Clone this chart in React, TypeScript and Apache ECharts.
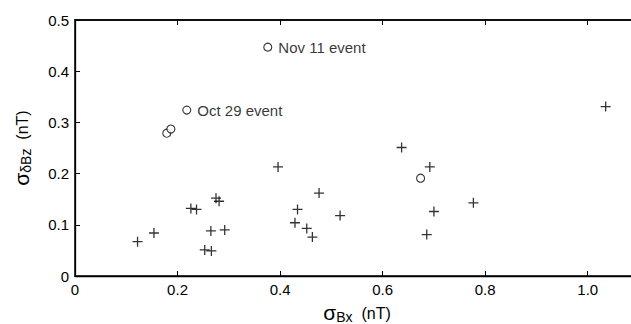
import React, { useEffect, useRef } from "react";
import * as echarts from "echarts";

const crossX = [0.122, 0.154, 0.226, 0.237, 0.275, 0.281, 0.265, 0.292, 0.253, 0.266, 0.396, 0.429, 0.434, 0.452, 0.463, 0.476, 0.517, 0.637, 0.692, 0.700, 0.686, 0.777, 1.035];
const crossY = [0.067, 0.084, 0.132, 0.130, 0.152, 0.146, 0.088, 0.090, 0.051, 0.049, 0.213, 0.104, 0.130, 0.093, 0.076, 0.162, 0.118, 0.251, 0.213, 0.126, 0.081, 0.143, 0.331];
const circleX = [0.376, 0.218, 0.179, 0.187, 0.674];
const circleY = [0.447, 0.324, 0.279, 0.287, 0.191];
const circleLabels = ["Nov 11 event", "Oct 29 event", "", "", ""];
const xTicks = [0, 0.2, 0.4, 0.6, 0.8, 1.0];
const yTicks = [0, 0.1, 0.2, 0.3, 0.4, 0.5];

const FONT = "'Liberation Sans', Arial, Helvetica, sans-serif";

export default function App() {
  const ref = useRef<HTMLDivElement>(null);
  useEffect(() => {
    if (!ref.current) return;
    const chart = echarts.init(ref.current, undefined, { renderer: "svg" });
    const fmtX = (v: number) => {
      if (!xTicks.some((t) => Math.abs(t - v) < 1e-6)) return "";
      return v === 0 ? "0" : v.toFixed(1);
    };
    const fmtY = (v: number) => {
      if (!yTicks.some((t) => Math.abs(t - v) < 1e-6)) return "";
      return v === 0 ? "0" : v.toFixed(1);
    };
    const axisLine = (w: number) => ({ show: true, onZero: false, lineStyle: { color: "#000", width: w } });
    const tick = () => ({ show: true, inside: true, length: 5, lineStyle: { color: "#000", width: 1 } });
    const rich = () => ({
      s: { fontSize: 21, fontFamily: FONT, color: "#000" },
      sub: { fontSize: 14, fontFamily: FONT, color: "#000", padding: [9, 0, 0, 0] },
      n: { fontSize: 16, fontFamily: FONT, color: "#000", padding: [2, 0, 0, 0] },
    });
    chart.setOption({
      animation: false,
      backgroundColor: "#fff",
      textStyle: { fontFamily: FONT },
      grid: {
        left: 75,
        top: 20,
        width: 564,
        height: 256,
        outerBoundsMode: "none",
        show: true,
        borderColor: "#000",
        borderWidth: 1.5,
        backgroundColor: "rgba(0,0,0,0)",
      },
      xAxis: [
        {
          type: "value",
          min: 0,
          max: 1.1,
          interval: 0.2,
          position: "bottom",
          axisLine: axisLine(1.3),
          axisTick: tick(),
          splitLine: { show: false },
          showMaxLabel: false,
          axisLabel: { formatter: fmtX, fontSize: 15, color: "#000", margin: 6, fontFamily: FONT },
          name: "{s|σ}{sub|Bx}{n|  (nT)}",
          nameLocation: "middle",
          nameGap: 8,
          nameTextStyle: { rich: rich() },
        },
        {
          type: "value",
          min: 0,
          max: 1.1,
          interval: 0.2,
          position: "top",
          z: 20,
          axisLine: axisLine(1.5),
          axisTick: tick(),
          axisLabel: { show: false },
          splitLine: { show: false },
        },
      ],
      yAxis: [
        {
          type: "value",
          min: 0,
          max: 0.5,
          interval: 0.1,
          position: "left",
          axisLine: axisLine(1.3),
          axisTick: tick(),
          splitLine: { show: false },
          axisLabel: { formatter: fmtY, fontSize: 15, color: "#000", margin: 6, fontFamily: FONT },
          name: "{s|σ}{sub|δBz}{n|  (nT)}",
          nameLocation: "middle",
          nameGap: 42,
          nameTextStyle: { rich: rich() },
        },
        {
          type: "value",
          min: 0,
          max: 0.5,
          interval: 0.1,
          position: "right",
          axisLine: axisLine(1.3),
          axisTick: tick(),
          axisLabel: { show: false },
          splitLine: { show: false },
        },
      ],
      series: [
        {
          type: "scatter",
          symbol: "path://M0,5L10,5M5,0L5,10",
          symbolSize: 10,
          itemStyle: { color: "transparent", borderColor: "#000", borderWidth: 1.3 },
          data: crossX.map((x, i) => [x, crossY[i]]),
          silent: true,
        },
        {
          type: "scatter",
          symbol: "circle",
          symbolSize: 8,
          itemStyle: { color: "#fff", borderColor: "#000", borderWidth: 1.1 },
          label: {
            show: true,
            position: "right",
            distance: 6,
            formatter: (p: any) => circleLabels[p.dataIndex],
            fontSize: 15,
            color: "#000",
            fontFamily: FONT,
          },
          data: circleX.map((x, i) => [x, circleY[i]]),
          silent: true,
        },
      ],
    });
    return () => chart.dispose();
  }, []);
  return (
    <div
      ref={ref}
      style={{ position: "absolute", left: 0, top: 0, width: 631, height: 324 }}
    />
  );
}
